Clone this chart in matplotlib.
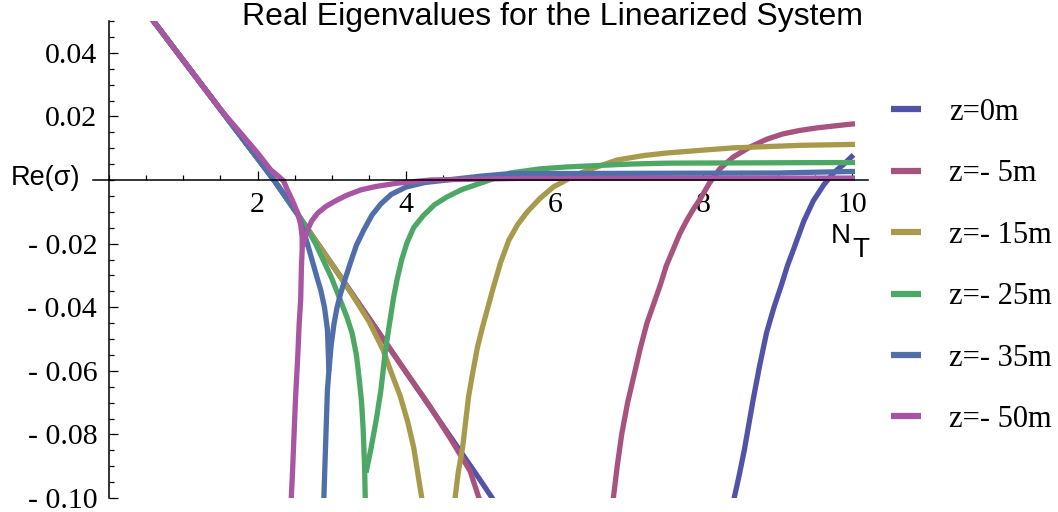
import matplotlib
matplotlib.use("Agg")
import matplotlib.pyplot as plt
from matplotlib.ticker import MultipleLocator, FixedLocator, FuncFormatter

# ---------------- data ----------------
title = "Real Eigenvalues for the Linearized System"
labels = ["z=0m", "z=- 5m", "z=- 15m", "z=- 25m", "z=- 35m", "z=- 50m"]
colors = ["#5153A8", "#A8527E", "#A89A4D", "#4DA866", "#506FAA", "#A855A3"]

# z = 0 m
z0_a_x = [0.55, 1.0, 1.5, 2.0, 2.22, 2.5, 3.0, 3.5, 4.0, 4.5, 5.0, 5.2]
z0_a_y = [0.0515, 0.0376, 0.0222, 0.0068, 0.0, -0.0095, -0.0265, -0.0435, -0.0605, -0.0775, -0.0945, -0.1015]
z0_b_x = [8.40, 8.48, 8.55, 8.61, 8.67, 8.76, 8.85, 8.95, 9.05, 9.13, 9.21, 9.35, 9.48, 9.62, 9.75, 9.90, 10.02]
z0_b_y = [-0.1015, -0.093, -0.085, -0.077, -0.069, -0.058, -0.048, -0.040, -0.033, -0.027, -0.022, -0.013, -0.0065, -0.0015, 0.0022, 0.0052, 0.0079]

# z = -5 m
z5_a_x = [0.55, 1.0, 1.5, 2.0, 2.22, 2.5, 3.0, 3.5, 4.0, 4.3, 4.6, 4.86, 5.0]
z5_a_y = [0.0515, 0.0376, 0.0222, 0.0068, 0.0, -0.0095, -0.0265, -0.0435, -0.0605, -0.0705, -0.0815, -0.0915, -0.1015]
z5_b_x = [6.78, 6.84, 6.90, 6.98, 7.06, 7.15, 7.24, 7.33, 7.42, 7.50, 7.59, 7.68, 7.78, 7.87, 7.96,
          8.08, 8.22, 8.40, 8.63, 8.85, 9.07, 9.30, 9.53, 9.80, 10.04]
z5_b_y = [-0.1015, -0.090, -0.080, -0.070, -0.062, -0.053, -0.045, -0.039, -0.033, -0.027, -0.022, -0.017, -0.0125, -0.009, -0.0058,
          -0.001, 0.0035, 0.0072, 0.0104, 0.0128, 0.0145, 0.0156, 0.0164, 0.0171, 0.0177]

# z = -15 m
z15_a_x = [0.55, 1.0, 1.5, 2.0, 2.22, 2.5, 3.0, 3.25, 3.5, 3.69, 3.79, 3.92, 4.02, 4.10, 4.22]
z15_a_y = [0.0515, 0.0376, 0.0222, 0.0068, 0.0, -0.0095, -0.0265, -0.0352, -0.0445, -0.0535, -0.060, -0.068, -0.076, -0.084, -0.1015]
z15_b_x = [4.65, 4.70, 4.76, 4.80, 4.84, 4.90, 4.96, 5.03, 5.10, 5.17, 5.27, 5.38, 5.50, 5.63, 5.80, 5.98,
           6.20, 6.43, 6.84, 7.20, 7.51, 8.00, 8.40, 9.30, 10.04]
z15_b_y = [-0.1015, -0.092, -0.084, -0.076, -0.068, -0.060, -0.0525, -0.046, -0.040, -0.034, -0.026, -0.019, -0.014, -0.010, -0.0058, -0.0022,
           0.0006, 0.003, 0.0063, 0.0077, 0.0085, 0.0094, 0.0101, 0.0109, 0.0112]

# z = -25 m
z25_a_x = [0.55, 1.0, 1.5, 2.0, 2.22, 2.5, 2.65, 2.78, 2.90, 3.0, 3.1, 3.2, 3.27, 3.33, 3.37, 3.40, 3.42, 3.44, 3.45]
z25_a_y = [0.0515, 0.0376, 0.0222, 0.0068, 0.0, -0.0095, -0.0146, -0.020, -0.026, -0.031, -0.037, -0.043, -0.048, -0.055, -0.063, -0.070, -0.078, -0.090, -0.1015]
z25_b_x = [3.46, 3.53, 3.60, 3.66, 3.71, 3.75, 3.79, 3.83, 3.88, 3.94, 4.01, 4.10, 4.23, 4.38, 4.55, 4.75,
           5.0, 5.4, 5.8, 6.16, 7.0, 7.51, 10.04]
z25_b_y = [-0.092, -0.084, -0.075, -0.066, -0.0557, -0.049, -0.043, -0.037, -0.031, -0.025, -0.0198, -0.015, -0.0112, -0.0078, -0.0053, -0.003,
           -0.001, 0.0022, 0.0035, 0.0041, 0.0050, 0.0053, 0.0055]

# z = -35 m
z35_a_x = [0.55, 1.0, 1.5, 2.0, 2.22, 2.55, 2.67, 2.81, 2.85, 2.90, 2.94, 2.96, 2.94, 2.91, 2.89]
z35_a_y = [0.0515, 0.0376, 0.0222, 0.0068, 0.0, -0.011, -0.020, -0.0315, -0.0346, -0.040, -0.047, -0.060, -0.066, -0.087, -0.1015]
z35_b_x = [2.96, 2.99, 3.03, 3.07, 3.12, 3.18, 3.25, 3.33, 3.43, 3.54, 3.66, 3.80, 4.00, 4.25, 4.55, 5.0, 5.4, 9.0, 10.04]
z35_b_y = [-0.060, -0.052, -0.045, -0.040, -0.0355, -0.031, -0.026, -0.0205, -0.0157, -0.011, -0.0075, -0.0045, -0.0022, -0.0008, 0.0, 0.0012, 0.002, 0.0022, 0.0027]

# z = -50 m
z50_a_x = [0.55, 1.0, 1.5, 1.8, 2.0, 2.18, 2.28, 2.35, 2.40, 2.47, 2.54, 2.58, 2.60, 2.60, 2.59, 2.58, 2.56, 2.54, 2.51, 2.47, 2.45]
z50_a_y = [0.0515, 0.0376, 0.0222, 0.0140, 0.0085, 0.0031, 0.0012, -0.0003, -0.0031, -0.0065, -0.0104, -0.014, -0.018, -0.022, -0.0274, -0.0377, -0.045, -0.0557, -0.069, -0.092, -0.1015]
z50_b_x = [2.61, 2.64, 2.69, 2.73, 2.81, 2.92, 3.07, 3.20, 3.39, 3.60, 3.88, 4.10, 4.33, 5.5, 10.04]
z50_b_y = [-0.021, -0.018, -0.0148, -0.0128, -0.0104, -0.0083, -0.0063, -0.0048, -0.0031, -0.002, -0.001, -0.0005, 0.0, 0.0005, 0.0006]

x_major = [2, 4, 6, 8, 10]
y_major = [-0.1, -0.08, -0.06, -0.04, -0.02, 0.02, 0.04]

series = [
    (z0_a_x, z0_a_y, z0_b_x, z0_b_y),
    (z5_a_x, z5_a_y, z5_b_x, z5_b_y),
    (z15_a_x, z15_a_y, z15_b_x, z15_b_y),
    (z25_a_x, z25_a_y, z25_b_x, z25_b_y),
    (z35_a_x, z35_a_y, z35_b_x, z35_b_y),
    (z50_a_x, z50_a_y, z50_b_x, z50_b_y),
]

# ---------------- figure ----------------
W, H = 1058, 512
fig = plt.figure(figsize=(W / 100, H / 100), dpi=100)
ax_left, ax_right, ax_top, ax_bot = 93, 868, 21, 498
ax = fig.add_axes([ax_left / W, 1 - ax_bot / H, (ax_right - ax_left) / W, (ax_bot - ax_top) / H])

serif = "Liberation Serif"
sans = "Liberation Sans"

handles = []
for (ax_, ay_, bx_, by_), c, lab in zip(series, colors, labels):
    l, = ax.plot(ax_, ay_, color=c, lw=3.8, solid_joinstyle="round", solid_capstyle="butt", label=lab)
    ax.plot(bx_, by_, color=c, lw=3.8, solid_joinstyle="round", solid_capstyle="butt")
    handles.append(l)

ax.set_xlim(-0.215, 10.215)
ax.set_ylim(-0.1, 0.05)

for s in ["top", "right"]:
    ax.spines[s].set_visible(False)
ax.spines["left"].set_position(("data", 0))
ax.spines["bottom"].set_position(("data", 0))
for s in ["left", "bottom"]:
    ax.spines[s].set_linewidth(1.1)

ax.xaxis.set_major_locator(FixedLocator(x_major))
ax.xaxis.set_minor_locator(MultipleLocator(0.5))
ax.yaxis.set_major_locator(FixedLocator(y_major))
ax.yaxis.set_minor_locator(MultipleLocator(0.005))

def yfmt(v, pos):
    s = f"{abs(v):.2f}"
    return ("- " + s) if v < 0 else s

ax.yaxis.set_major_formatter(FuncFormatter(yfmt))
ax.xaxis.set_major_formatter(FuncFormatter(lambda v, p: f"{v:g}"))

ax.tick_params(which="both", direction="in", width=0.9, color="black")
ax.tick_params(which="major", length=6.5)
ax.tick_params(which="minor", length=3.6)
ax.tick_params(axis="y", which="major", pad=8.5)
ax.tick_params(axis="x", which="major", pad=8.5)
for t in ax.get_xticklabels() + ax.get_yticklabels():
    t.set_fontfamily(serif)
    t.set_fontsize(21.5)

fig.text(552 / W, 1 - 17 / H, title, ha="center", va="center", fontsize=23, family=sans)
fig.text(11 / W, 1 - 178 / H, "Re(σ)", ha="left", va="center", fontsize=19.5, family=sans)
fig.text(831 / W, 1 - 236 / H, "N", ha="left", va="center", fontsize=20, family=sans)
fig.text(852 / W, 1 - 250 / H, "T", ha="left", va="center", fontsize=20, family=sans)

leg = fig.legend(handles=handles, labels=labels, loc="center left",
                 bbox_to_anchor=(891 / W, 1 - 266 / H), frameon=False,
                 prop={"family": serif, "size": 22}, handlelength=0.98,
                 handletextpad=0.92, labelspacing=1.06, borderpad=0, borderaxespad=0)
for ln in leg.get_lines():
    ln.set_linewidth(4.5)

fig.savefig("out.png", dpi=100)
